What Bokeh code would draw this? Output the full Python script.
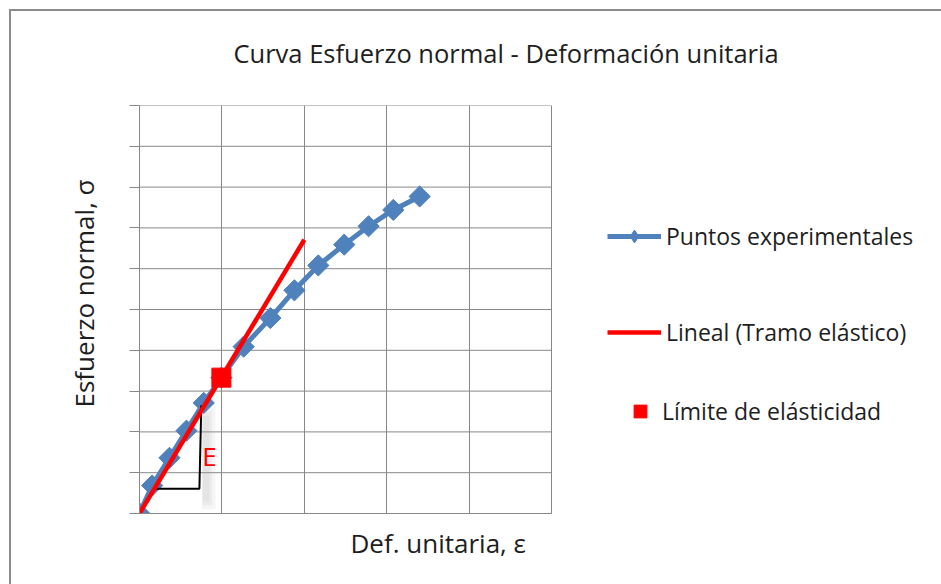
from bokeh.plotting import figure
from bokeh.models import Legend, LegendItem, Label, FixedTicker, Range1d, Title, CustomJSTickFormatter
from bokeh.embed import file_html
from bokeh.resources import INLINE
import math

# ---- data (arbitrary units, no tick labels) ----
strain = [0, 0.154, 0.364, 0.57, 0.78, 0.994, 1.264, 1.588, 1.88, 2.17, 2.485, 2.78, 3.08, 3.40]
stress = [0, 0.686, 1.365, 2.03, 2.71, 3.33, 4.09, 4.79, 5.47, 6.08, 6.59, 7.04, 7.44, 7.77]
lim_x = [0.994]
lim_y = [3.33]
lin_x = [0, 2.0]
lin_y = [0, 6.71]
tri_x = [0.194, 0.727, 0.75]
tri_y = [0.605, 0.605, 2.65]
x_ticks = [0, 1, 2, 3, 4, 5]
y_ticks = [0, 1, 2, 3, 4, 5, 6, 7, 8, 9, 10]

title_text = "Curva Esfuerzo normal - Deformación unitaria"
xlabel_text = "Def. unitaria, ε"
ylabel_text = "Esfuerzo normal, σ"
leg_labels = ["Puntos experimentales", "Lineal (Tramo elástico)", "Límite de elásticidad"]

FONT = "Open Sans"
BLUE = "#4F81BD"
RED = "#FF0000"
GRID = "#888888"
TXT = "#1e1e1e"

# ---- layout (page pixels) ----
W, H = 941, 584
FRAME_L, FRAME_R, FRAME_T, FRAME_B = 139, 935, 105, 513
CHART_R = 551      # right edge of the gridded area
x_end = x_ticks[-1] * (FRAME_R - FRAME_L) / (CHART_R - FRAME_L)

p = figure(width=W, height=H, x_range=Range1d(0, x_end), y_range=Range1d(0, y_ticks[-1]),
           output_backend="svg", toolbar_location=None, title=None,
           min_border_left=FRAME_L, min_border_right=W - FRAME_R,
           min_border_top=FRAME_T, min_border_bottom=H - FRAME_B)
# outer chart border (top and left edges), drawn behind the transparent canvas border
p.styles = {
    "background-image": "linear-gradient(#8c8c8c, #8c8c8c), linear-gradient(#8c8c8c, #8c8c8c)",
    "background-size": "2px 100%, 100% 2px",
    "background-position": "9px 9px, 9px 9px",
    "background-repeat": "no-repeat",
}
p.outline_line_color = None
p.background_fill_color = "white"
p.border_fill_alpha = 0

for ax, t in ((p.xaxis, x_ticks), (p.yaxis, y_ticks)):
    ax.ticker = FixedTicker(ticks=t)
    ax.formatter = CustomJSTickFormatter(code="return ''")
    ax.minor_tick_line_color = None
    ax.axis_line_color = GRID
    ax.major_tick_line_color = GRID
    ax.major_label_standoff = 0
p.xaxis.bounds = (x_ticks[0], x_ticks[-1])
p.xaxis.major_tick_in = 8
p.xaxis.major_tick_out = 0
p.yaxis.major_tick_in = 0
p.yaxis.major_tick_out = 10
p.xgrid.ticker = FixedTicker(ticks=x_ticks)
p.xgrid.grid_line_color = GRID
p.xgrid.grid_line_width = 1
p.ygrid.visible = False
# horizontal grid lines limited to the gridded area
p.segment(x0=[x_ticks[0]] * len(y_ticks), x1=[x_ticks[-1]] * len(y_ticks), y0=y_ticks, y1=y_ticks,
          line_color=GRID, line_width=1)

# soft shadow beside the slope triangle
p.quad(left=[0.76, 0.76, 0.77], right=[0.92, 0.88, 0.85], bottom=[0.1, 0.2, 0.3], top=[2.6, 2.5, 2.4],
       fill_color="#9a9a9a", fill_alpha=0.10, line_color=None)

# experimental series
exp_line = p.line(strain, stress, line_color=BLUE, line_width=5)
lg_mark = p.scatter(strain, stress, marker="diamond", size=14,
                    fill_color=BLUE, line_color=BLUE)  # hidden underneath; used for the legend
exp_mark = p.scatter(strain, stress, marker="square", angle=math.pi / 4, size=15,
                     fill_color=BLUE, line_color=BLUE)

# slope triangle
p.line(tri_x, tri_y, line_color="black", line_width=2)

# linear elastic fit
lin_line = p.line(lin_x, lin_y, line_color=RED, line_width=4.5)

# elastic limit
lg_sq = p.scatter(lim_x, lim_y, marker="square", size=11, fill_color=RED, line_color=RED)
lim_mark = p.scatter(lim_x, lim_y, marker="square", size=19, fill_color=RED, line_color=RED)

p.add_layout(Label(x=0.85, y=1.40, text="E", text_color=RED, text_font=FONT,
                   text_font_size="26px", text_align="center", text_baseline="alphabetic"))

# titles
p.add_layout(Title(text=title_text, align="left", offset=233 - FRAME_L, standoff=67,
                   vertical_align="top",
                   text_font=FONT, text_font_size="25.5px", text_font_style="normal",
                   text_color=TXT), "above")
p.add_layout(Title(text=xlabel_text, align="left", offset=350 - FRAME_L, standoff=19,
                   text_font=FONT, text_font_size="26px", text_font_style="normal",
                   text_color=TXT), "below")
p.add_layout(Title(text=ylabel_text, align="left", offset=FRAME_B - 407, standoff=55,
                   text_font=FONT, text_font_size="26px", text_font_style="normal",
                   text_color=TXT), "left")


def make_legend(label, renderers, page_left, page_cy, gw, standoff):
    lg = Legend(items=[LegendItem(label=label, renderers=renderers)],
                location=(page_left - FRAME_L, FRAME_B - (page_cy + 16)),
                padding=0, margin=0, border_line_color=None, background_fill_alpha=0,
                glyph_width=gw, glyph_height=32, label_height=32, label_standoff=standoff,
                label_text_font=FONT, label_text_font_size="23px", label_text_color=TXT)
    p.add_layout(lg)


make_legend(leg_labels[0], [exp_line, lg_mark], 607, 236, 54, 5)
make_legend(leg_labels[1], [lin_line], 607, 332, 54, 5)
make_legend(leg_labels[2], [lg_sq], 622, 411, 36, 4)

open("out.html", "w").write(file_html(p, INLINE))
